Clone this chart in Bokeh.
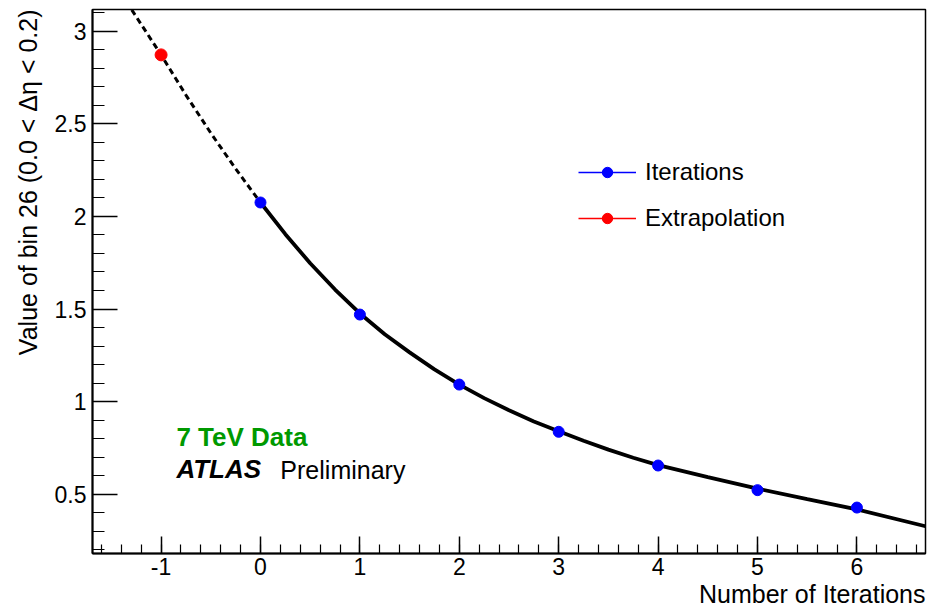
from bokeh.plotting import figure
from bokeh.models import (Range1d, SingleIntervalTicker, NumeralTickFormatter, Label,
                          Legend, LegendItem, Title, ColumnDataSource)
from bokeh.embed import file_html
from bokeh.resources import INLINE

# ---- data ----
iterations = [0, 1, 2, 3, 4, 5, 6]
iter_values = [2.075, 1.470, 1.092, 0.837, 0.655, 0.522, 0.428]
extrap_x = [-1]
extrap_y = [2.872]
# fitted curve
fit_dash_x = [-1.35, -1.0, -0.75, -0.5, -0.25, 0.0]
fit_dash_y = [3.16, 2.872, 2.655, 2.45, 2.257, 2.075]
fit_solid_x = [0.0, 0.25, 0.5, 0.75, 1.0, 1.25, 1.5, 1.75, 2.0, 2.25, 2.5, 2.75, 3.0,
               3.25, 3.5, 3.75, 4.0, 4.5, 5.0, 5.5, 6.0, 6.69]
fit_solid_y = [2.075, 1.904, 1.747, 1.605, 1.476, 1.364, 1.266, 1.174, 1.092, 1.019, 0.953,
               0.893, 0.840, 0.789, 0.741, 0.697, 0.657, 0.592, 0.530, 0.473, 0.418, 0.327]

x_label = "Number of Iterations"
y_label = "Value of bin 26 (0.0 < \u0394\u03b7 < 0.2)"
FONT = "Liberation Sans"
NAN = float("nan")

p = figure(width=928, height=614, output_backend="svg", toolbar_location=None,
           x_range=Range1d(-1.69, 6.69), y_range=Range1d(0.18, 3.117),
           min_border_left=92, min_border_right=3, min_border_top=9, min_border_bottom=61)
p.title.visible = False
p.grid.visible = False
p.outline_line_color = "black"
p.outline_line_width = 1.5
p.background_fill_color = "white"
p.border_fill_color = "white"

# axes
p.xaxis.ticker = SingleIntervalTicker(interval=1, num_minor_ticks=5)
p.yaxis.ticker = SingleIntervalTicker(interval=0.5, num_minor_ticks=5)
p.xaxis.formatter = NumeralTickFormatter(format="0")
p.yaxis.formatter = NumeralTickFormatter(format="0.[0]")
for ax in (p.xaxis[0], p.yaxis[0]):
    ax.axis_line_width = 2
    ax.axis_line_color = "black"
    ax.major_tick_line_color = "black"
    ax.minor_tick_line_color = "black"
    ax.major_tick_line_width = 1.5
    ax.minor_tick_line_width = 1.2
    ax.major_tick_out = 0
    ax.minor_tick_out = 0
    ax.major_label_text_font = FONT
    ax.major_label_text_font_size = "23px"
    ax.major_label_text_color = "black"
p.xaxis.major_tick_in = 17
p.xaxis.minor_tick_in = 9
p.yaxis.major_tick_in = 25
p.yaxis.minor_tick_in = 12
p.xaxis.major_label_standoff = 4
p.yaxis.major_label_standoff = 6

p.add_layout(Title(text=y_label, align="right", text_font=FONT, text_font_size="25px",
                   text_font_style="normal", text_color="black", standoff=19), "left")
p.add_layout(Title(text=x_label, align="right", text_font=FONT, text_font_size="25px",
                   text_font_style="normal", text_color="black", standoff=0), "below")

# fit curve
p.line(fit_dash_x, fit_dash_y, line_color="black", line_width=3, line_dash="6 4")
p.line(fit_solid_x, fit_solid_y, line_color="black", line_width=3.8)

# points
it_src = ColumnDataSource(dict(x=iterations, y=iter_values))
ex_src = ColumnDataSource(dict(x=extrap_x, y=extrap_y))
blue_pts = p.scatter("x", "y", source=it_src, size=11, color="blue")
red_pts = p.scatter("x", "y", source=ex_src, size=12, color="red")
blue_ln = p.line(x=[NAN], y=[NAN], line_color="blue", line_width=1.3)
red_ln = p.line(x=[NAN], y=[NAN], line_color="red", line_width=1.3)

legend = Legend(items=[LegendItem(label="Iterations", renderers=[blue_ln, blue_pts]),
                       LegendItem(label="Extrapolation", renderers=[red_ln, red_pts])],
                location=(486, 321), border_line_color=None, background_fill_alpha=0,
                glyph_width=58, glyph_height=26, label_height=26, label_standoff=9,
                spacing=18, padding=0, margin=0,
                label_text_font=FONT, label_text_font_size="24px", label_text_color="black")
p.add_layout(legend)

p.add_layout(Label(x=-0.846, y=0.727, text="7 TeV Data", text_color="#009900",
                   text_font=FONT, text_font_style="bold", text_font_size="26px"))
p.add_layout(Label(x=-0.846, y=0.556, text="ATLAS", text_color="black",
                   text_font=FONT, text_font_style="bold italic", text_font_size="26px"))
p.add_layout(Label(x=0.200, y=0.556, text="Preliminary", text_color="black",
                   text_font=FONT, text_font_style="normal", text_font_size="25px"))

open("out.html", "w").write(file_html(p, INLINE))
